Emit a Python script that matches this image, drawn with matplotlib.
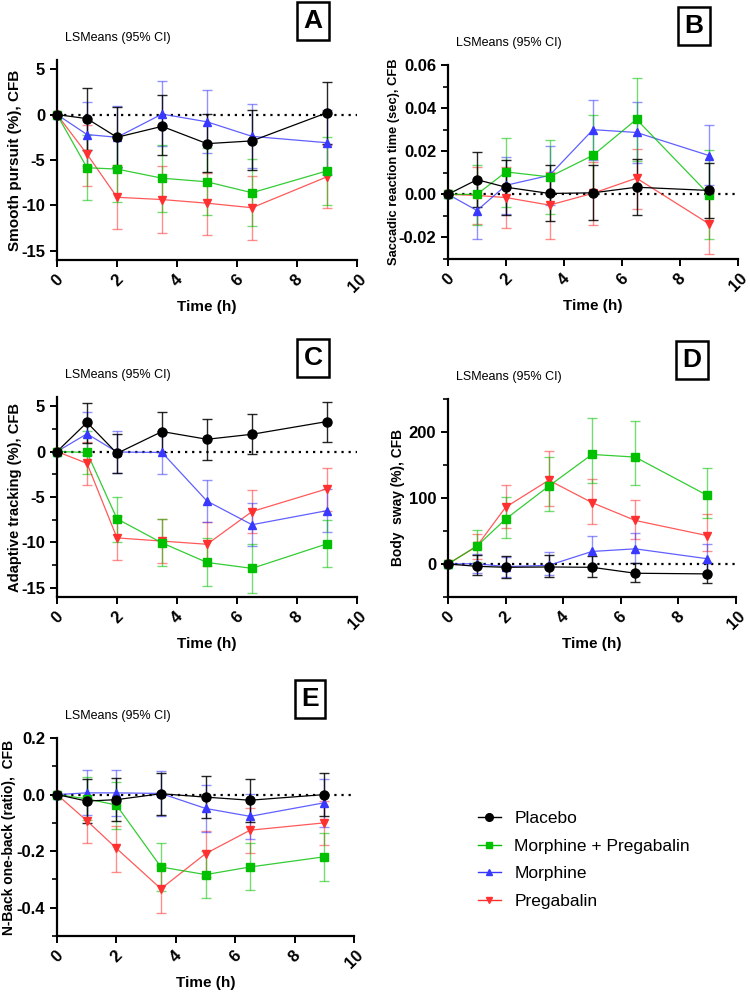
import matplotlib
matplotlib.use("Agg")
import matplotlib.pyplot as plt
import numpy as np
from matplotlib.ticker import MultipleLocator, FormatStrFormatter

plt.rcParams["font.family"] = ["Liberation Sans", "DejaVu Sans"]

TIMES = [0, 1, 2, 3.5, 5, 6.5, 9]
GROUPS = ["Placebo", "Morphine + Pregabalin", "Morphine", "Pregabalin"]
LETTERS = ["A", "B", "C", "D", "E"]
YLABELS = [
    "Smooth pursuit (%), CFB",
    "Saccadic reaction time (sec), CFB",
    "Adaptive tracking (%), CFB",
    "Body  sway (%), CFB",
    "N-Back one-back (ratio),  CFB",
]

# Panel A - smooth pursuit
A_PLA = [0, -0.45, -2.5, -1.3, -3.2, -2.9, 0.2]
A_PLA_LO = [0, -3.9, -5.8, -4.5, -6.3, -6.1, -3.2]
A_PLA_HI = [0, 2.9, 0.8, 2.1, 0.1, 0.5, 3.6]
A_MP = [0, -5.85, -6.0, -7.0, -7.4, -8.6, -6.2]
A_MP_LO = [0, -9.4, -9.6, -10.7, -11.1, -12.3, -9.9]
A_MP_HI = [0, -2.3, -2.4, -3.3, -3.7, -4.9, -2.5]
A_MOR = [0, -2.2, -2.5, 0.05, -0.8, -2.4, -3.1]
A_MOR_LO = [0, -5.7, -5.9, -3.5, -4.2, -5.9, -6.7]
A_MOR_HI = [0, 1.35, 0.9, 3.65, 2.75, 1.2, 0.5]
A_PRE = [0, -4.35, -9.1, -9.35, -9.75, -10.25, -6.85]
A_PRE_LO = [0, -7.9, -12.6, -13.0, -13.2, -13.8, -10.25]
A_PRE_HI = [0, -1.1, -5.6, -5.7, -6.4, -6.8, -3.4]

# Panel B - saccadic reaction time
B_PLA = [0, 0.0068, 0.0033, 0.0004, 0.0007, 0.0033, 0.0018]
B_PLA_LO = [0, -0.006, -0.0095, -0.0122, -0.012, -0.0098, -0.011]
B_PLA_HI = [0, 0.0198, 0.016, 0.0135, 0.0137, 0.0162, 0.0146]
B_MP = [0, 0.0, 0.0104, 0.0081, 0.0181, 0.0348, -0.0001]
B_MP_LO = [0, -0.014, -0.006, -0.0093, -0.0005, 0.0155, -0.0205]
B_MP_HI = [0, 0.0138, 0.0262, 0.025, 0.037, 0.0541, 0.0204]
B_MOR = [0, -0.0075, 0.0042, 0.0088, 0.030, 0.0287, 0.018]
B_MOR_LO = [0, -0.0206, -0.009, -0.005, 0.016, 0.0147, 0.0042]
B_MOR_HI = [0, 0.0056, 0.0174, 0.0224, 0.0438, 0.0428, 0.032]
B_PRE = [0, -0.0005, -0.0015, -0.005, 0.0005, 0.0075, -0.0137]
B_PRE_LO = [0, -0.0136, -0.0157, -0.0205, -0.014, -0.0068, -0.0278]
B_PRE_HI = [0, 0.0125, 0.0128, 0.0105, 0.015, 0.0212, 0.0005]

# Panel C - adaptive tracking
C_PLA = [0, 3.2, -0.2, 2.2, 1.35, 1.9, 3.3]
C_PLA_LO = [0, 0.95, -2.4, 0.0, -0.9, -0.3, 1.05]
C_PLA_HI = [0, 5.35, 1.95, 4.4, 3.55, 4.1, 5.5]
C_MP = [0, -0.1, -7.4, -10.05, -12.2, -12.85, -10.15]
C_MP_LO = [0, -2.5, -9.95, -12.6, -14.8, -15.55, -12.75]
C_MP_HI = [0, 2.25, -4.95, -7.45, -9.5, -10.2, -7.5]
C_MOR = [0, 1.95, -0.05, -0.1, -5.45, -8.05, -6.5]
C_MOR_LO = [0, -0.35, -2.35, -2.45, -7.75, -10.35, -8.85]
C_MOR_HI = [0, 4.3, 2.3, 2.25, -3.1, -5.7, -4.15]
C_PRE = [0, -1.3, -9.5, -9.85, -10.2, -6.6, -4.1]
C_PRE_LO = [0, -3.65, -11.9, -12.3, -12.6, -9.0, -6.5]
C_PRE_HI = [0, 1.05, -7.1, -7.4, -7.75, -4.2, -1.8]

# Panel D - body sway
D_PLA = [0, -3.5, -5, -4.5, -5, -14, -15]
D_PLA_LO = [0, -17, -21, -19, -19, -28, -29]
D_PLA_HI = [0, 14, 12, 13, 12, 1, 1.5]
D_MP = [0, 27, 68, 118, 166, 162, 104]
D_MP_LO = [0, 3, 40, 81, 122, 119, 70]
D_MP_HI = [0, 51, 102, 162, 221, 216, 145]
D_MOR = [0, 0.5, -4, -2, 19, 23, 8]
D_MOR_LO = [0, -14, -19, -17, -4, 1.5, -14]
D_MOR_HI = [0, 15, 11, 18, 42, 47, 30]
D_PRE = [0, 27, 86, 127, 93, 66, 43]
D_PRE_LO = [0, 8, 54, 88, 61, 38, 20]
D_PRE_HI = [0, 46, 120, 171, 129, 97, 76]

# Panel E - N-back
E_PLA = [0, -0.023, -0.018, 0.003, -0.009, -0.02, 0.0]
E_PLA_LO = [0, -0.1, -0.092, -0.073, -0.084, -0.096, -0.077]
E_PLA_HI = [0, 0.054, 0.058, 0.078, 0.065, 0.056, 0.076]
E_MP = [0, -0.015, -0.037, -0.256, -0.283, -0.256, -0.22]
E_MP_LO = [0, -0.09, -0.12, -0.34, -0.367, -0.338, -0.304]
E_MP_HI = [0, 0.062, 0.045, -0.17, -0.2, -0.172, -0.137]
E_MOR = [0, 0.006, 0.006, 0.004, -0.049, -0.077, -0.029]
E_MOR_LO = [0, -0.072, -0.075, -0.075, -0.132, -0.156, -0.113]
E_MOR_HI = [0, 0.088, 0.088, 0.085, 0.033, 0.003, 0.054]
E_PRE = [0, -0.092, -0.19, -0.333, -0.209, -0.126, -0.1]
E_PRE_LO = [0, -0.172, -0.272, -0.42, -0.29, -0.207, -0.18]
E_PRE_HI = [0, -0.012, -0.11, -0.25, -0.13, -0.046, -0.021]

STYLES = {
    "Placebo": dict(color="#000000", marker="o", ms=6.5),
    "Morphine + Pregabalin": dict(color="#00C000", marker="s", ms=6.0),
    "Morphine": dict(color="#3838FF", marker="^", ms=5.5),
    "Pregabalin": dict(color="#FF3030", marker="v", ms=5.5),
}
DRAW_ORDER = ["Pregabalin", "Morphine", "Morphine + Pregabalin", "Placebo"]

panels = [
    {"Placebo": (A_PLA, A_PLA_LO, A_PLA_HI), "Morphine + Pregabalin": (A_MP, A_MP_LO, A_MP_HI),
     "Morphine": (A_MOR, A_MOR_LO, A_MOR_HI), "Pregabalin": (A_PRE, A_PRE_LO, A_PRE_HI)},
    {"Placebo": (B_PLA, B_PLA_LO, B_PLA_HI), "Morphine + Pregabalin": (B_MP, B_MP_LO, B_MP_HI),
     "Morphine": (B_MOR, B_MOR_LO, B_MOR_HI), "Pregabalin": (B_PRE, B_PRE_LO, B_PRE_HI)},
    {"Placebo": (C_PLA, C_PLA_LO, C_PLA_HI), "Morphine + Pregabalin": (C_MP, C_MP_LO, C_MP_HI),
     "Morphine": (C_MOR, C_MOR_LO, C_MOR_HI), "Pregabalin": (C_PRE, C_PRE_LO, C_PRE_HI)},
    {"Placebo": (D_PLA, D_PLA_LO, D_PLA_HI), "Morphine + Pregabalin": (D_MP, D_MP_LO, D_MP_HI),
     "Morphine": (D_MOR, D_MOR_LO, D_MOR_HI), "Pregabalin": (D_PRE, D_PRE_LO, D_PRE_HI)},
    {"Placebo": (E_PLA, E_PLA_LO, E_PLA_HI), "Morphine + Pregabalin": (E_MP, E_MP_LO, E_MP_HI),
     "Morphine": (E_MOR, E_MOR_LO, E_MOR_HI), "Pregabalin": (E_PRE, E_PRE_LO, E_PRE_HI)},
]

# axes rectangles in figure pixels: left, top, right, bottom
W, H = 750, 994
RECTS = [
    (57, 60, 357, 260),
    (448, 65, 738, 259),
    (57, 397, 357, 597),
    (448, 399, 736, 597),
    (57, 738, 354, 936),
]
YLIMS = [(-16, 6), (-0.03, 0.06), (-16, 6), (-50, 250), (-0.5, 0.2)]
YMINOR = [None, 0.01, 2.5, 50, 0.1]
YFMT = ["%d", "%.2f", "%d", "%d", "%.1f"]
YTICKS = [
    [-15, -10, -5, 0, 5],
    [-0.02, 0.0, 0.02, 0.04, 0.06],
    [-15, -10, -5, 0, 5],
    [0, 100, 200],
    [-0.4, -0.2, 0.0, 0.2],
]
YLABEL_SIZE = [11, 9.3, 10.6, 9.9, 10]
YLABEL_RIGHT = [22, 400, 22, 405, 16]  # right edge of rotated y label, px


def px_rect(r):
    l, t, rr, b = r
    return [l / W, 1 - b / H, (rr - l) / W, (b - t) / H]


fig = plt.figure(figsize=(7.5, 9.94), dpi=100)

for i, data in enumerate(panels):
    ax = fig.add_axes(px_rect(RECTS[i]))
    ax.plot([0, 10], [0, 0], color="black", linestyle=(0, (1, 2.2)), lw=1.6, zorder=1)
    for name in DRAW_ORDER:
        mean, lo, hi = (np.array(v, dtype=float) for v in data[name])
        st = STYLES[name]
        yerr = np.vstack([mean - lo, hi - mean])
        alpha = 0.85 if name == "Placebo" else 0.55
        ax.errorbar(TIMES, mean, yerr=yerr, fmt="none", ecolor=st["color"],
                    elinewidth=1.0, capsize=3.6, capthick=1.0, alpha=alpha, zorder=2)
        ax.plot(TIMES, mean, color=st["color"], lw=0.9, alpha=0.8 if name != "Placebo" else 1,
                zorder=3)
        ax.plot(TIMES, mean, linestyle="none", marker=st["marker"], ms=st["ms"],
                color=st["color"], mec=st["color"], zorder=4, clip_on=False)

    ax.set_xlim(0, 10)
    ax.set_ylim(*YLIMS[i])
    ax.set_xticks([0, 2, 4, 6, 8, 10])
    ax.set_yticks(YTICKS[i])
    if YMINOR[i]:
        ax.yaxis.set_minor_locator(MultipleLocator(YMINOR[i]))
    ax.yaxis.set_major_formatter(FormatStrFormatter(YFMT[i]))
    for s in ["top", "right"]:
        ax.spines[s].set_visible(False)
    for s in ["left", "bottom"]:
        ax.spines[s].set_linewidth(1.6)
    ax.tick_params(axis="both", which="major", width=1.4, length=5, labelsize=12)
    ax.tick_params(axis="y", which="minor", width=1.2, length=3.5)
    for lab in ax.get_xticklabels() + ax.get_yticklabels():
        lab.set_fontweight("bold")
    for lab in ax.get_xticklabels():
        lab.set_rotation(45)
    ax.set_xlabel("Time (h)", fontsize=11, fontweight="bold", labelpad=3)
    ax.set_ylabel(YLABELS[i], fontsize=YLABEL_SIZE[i], fontweight="bold")

    l, t, rr, b = RECTS[i]
    ax.yaxis.set_label_coords((YLABEL_RIGHT[i] - l) / (rr - l), 0.5)
    fig.text((l + 8) / W, 1 - (t - 22) / H, "LSMeans (95% CI)", fontsize=9,
             ha="left", va="center")
    fig.text((rr - 44) / W, 1 - (t - 39) / H, LETTERS[i], fontsize=19, fontweight="bold",
             ha="center", va="center",
             bbox=dict(boxstyle="square,pad=0.25", fc="white", ec="black", lw=1.8))

# legend
handles = []
for name in GROUPS:
    st = STYLES[name]
    (h,) = plt.plot([], [], color=st["color"], marker=st["marker"], ms=st["ms"] - 1,
                    lw=1.0)
    handles.append(h)
fig.legend(handles, GROUPS, loc="upper left", bbox_to_anchor=(471 / W, 1 - 804 / H),
           frameon=False, fontsize=12.5, handlelength=1.3, handletextpad=0.8,
           labelspacing=0.72, borderaxespad=0)

fig.savefig("out.png", dpi=100)
